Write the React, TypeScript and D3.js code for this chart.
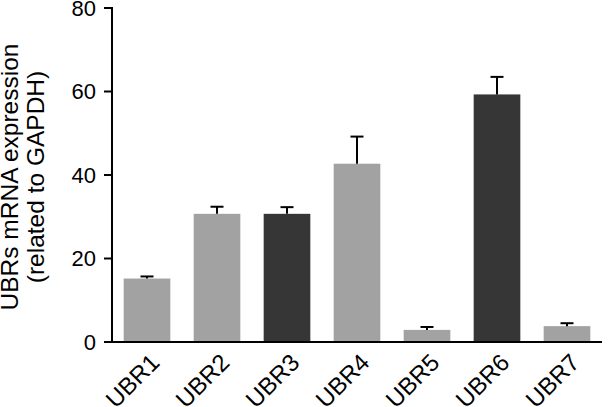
import React from "react";
import * as d3 from "d3";

const categories = ["UBR1", "UBR2", "UBR3", "UBR4", "UBR5", "UBR6", "UBR7"];
const means = [15.2, 30.7, 30.7, 42.7, 2.9, 59.3, 3.8];
const errors = [0.5, 1.7, 1.6, 6.5, 0.7, 4.2, 0.7];
const highlighted = [false, false, true, false, false, true, false];
const yTicks = [0, 20, 40, 60, 80];
const yLabelLines = ["UBRs mRNA expression", "(related to GAPDH)"];

const W = 614;
const H = 407;
const x0 = 112;
const x1 = 602;
const yTop = 8;
const yBottom = 342;
const font = "'Liberation Sans', Arial, Helvetica, sans-serif";

export default function App() {
  const x = d3.scaleBand<string>().domain(categories).range([x0, x1]).paddingInner(1 / 3).paddingOuter(1 / 6);
  const y = d3.scaleLinear().domain([0, 80]).range([yBottom, yTop]);
  const bw = x.bandwidth();
  const capW = 13;
  return (
    <svg width={W} height={H} style={{ position: "absolute", left: 0, top: 0, background: "#fff" }}>
      <g>
        {categories.map((c, i) => (
          <rect
            key={c}
            x={x(c)}
            y={y(means[i])}
            width={bw}
            height={y(0) - y(means[i])}
            fill={highlighted[i] ? "#363636" : "#a2a2a2"}
          />
        ))}
        {categories.map((c, i) => {
          const cx = (x(c) as number) + bw / 2;
          return (
            <g key={c + "e"} stroke="#000" strokeWidth={2}>
              <line x1={cx} x2={cx} y1={y(means[i])} y2={y(means[i] + errors[i])} />
              <line x1={cx - capW / 2} x2={cx + capW / 2} y1={y(means[i] + errors[i])} y2={y(means[i] + errors[i])} />
            </g>
          );
        })}
      </g>
      <line x1={x0} x2={x0} y1={yTop - 1} y2={yBottom + 1} stroke="#000" strokeWidth={2} />
      <line x1={x0 - 1} x2={x1} y1={yBottom} y2={yBottom} stroke="#000" strokeWidth={2} />
      {yTicks.map((t) => (
        <g key={t}>
          <line x1={x0 - 8} x2={x0} y1={y(t)} y2={y(t)} stroke="#000" strokeWidth={2} />
          <text x={x0 - 16} y={y(t)} dy="0.36em" textAnchor="end" fontFamily={font} fontSize={22} fill="#000">
            {t}
          </text>
        </g>
      ))}
      {categories.map((c) => {
        const cx = (x(c) as number) + bw / 2;
        return (
          <text
            key={c + "l"}
            transform={`translate(${cx + 14},${yBottom + 22}) rotate(-45)`}
            textAnchor="end"
            fontFamily={font}
            fontSize={24}
            fill="#000"
          >
            {c}
          </text>
        );
      })}
      {yLabelLines.map((l, i) => (
        <text
          key={l}
          transform={`translate(${18 + i * 26},177) rotate(-90)`}
          textAnchor="middle"
          fontFamily={font}
          fontSize={24.5}
          fill="#000"
        >
          {l}
        </text>
      ))}
    </svg>
  );
}
